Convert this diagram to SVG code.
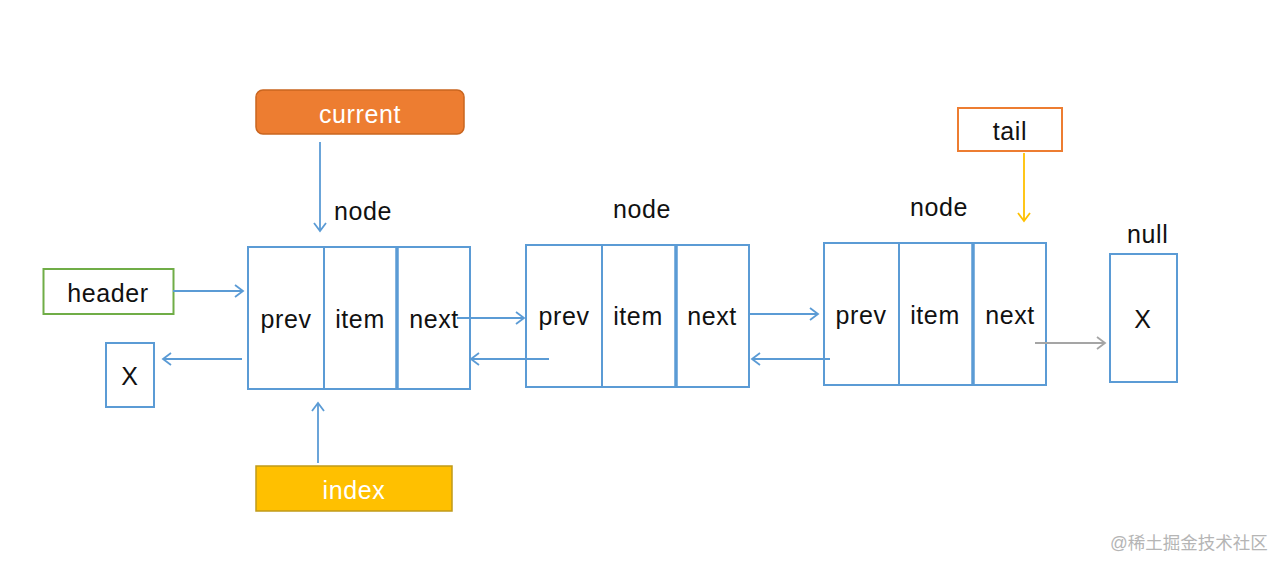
<svg xmlns="http://www.w3.org/2000/svg" width="1288" height="570" viewBox="0 0 1288 570">
<style>
  text { font-family: "Liberation Sans", Arial, sans-serif; font-size: 25px; letter-spacing: 0.6px; fill: #111; }
  .mid { text-anchor: middle; }
  .box { fill: #fff; stroke: #5B9BD5; stroke-width: 2; }
  .div { stroke: #5B9BD5; stroke-width: 2; }
  .thick { stroke: #5B9BD5; stroke-width: 3.5; }
  .conn { fill: none; stroke: #5B9BD5; stroke-width: 1.8; marker-end: url(#ah); }
  .wm { font-family: "Liberation Sans", "Noto Sans CJK SC", sans-serif; font-size: 17.5px; letter-spacing: 0; fill: #b5b5b5; }
</style>
<defs>
  <marker id="ah" markerUnits="userSpaceOnUse" markerWidth="14" markerHeight="16" refX="10" refY="8" orient="auto">
    <path d="M2,2 L10,8 L2,14" fill="none" stroke="#5B9BD5" stroke-width="1.8"/>
  </marker>
  <marker id="ahy" markerUnits="userSpaceOnUse" markerWidth="14" markerHeight="16" refX="10" refY="8" orient="auto">
    <path d="M2,2 L10,8 L2,14" fill="none" stroke="#FFC000" stroke-width="1.8"/>
  </marker>
  <marker id="ahg" markerUnits="userSpaceOnUse" markerWidth="14" markerHeight="16" refX="10" refY="8" orient="auto">
    <path d="M2,2 L10,8 L2,14" fill="none" stroke="#A5A5A5" stroke-width="1.8"/>
  </marker>
</defs>
<rect width="1288" height="570" fill="#fff"/>

<g id="current">
  <rect x="256" y="90" width="208" height="44" rx="7" fill="#ED7D31" stroke="#C9651F" stroke-width="1.5"/>
  <text x="360" y="123" class="mid" style="fill:#fff">current</text>
</g>

<g id="index">
  <rect x="256" y="466" width="196" height="45" fill="#FFC000" stroke="#C09A1A" stroke-width="1.5"/>
  <text x="354" y="499" class="mid" style="fill:#fff">index</text>
</g>

<g id="header">
  <rect x="43.5" y="269" width="130" height="45" fill="#fff" stroke="#70AD47" stroke-width="2"/>
  <text x="108" y="302" class="mid">header</text>
</g>

<g id="xleft">
  <rect x="106" y="343" width="48" height="64" class="box"/>
  <text x="130" y="385" class="mid">X</text>
</g>

<g id="tail">
  <rect x="958" y="108" width="104" height="43" fill="#fff" stroke="#ED7D31" stroke-width="2"/>
  <text x="1010" y="140" class="mid">tail</text>
</g>

<g id="node1">
  <text x="334" y="220">node</text>
  <rect x="248" y="247" width="222" height="142" class="box"/>
  <line x1="324" y1="247" x2="324" y2="389" class="div"/>
  <line x1="397" y1="247" x2="397" y2="389" class="thick"/>
  <text x="286" y="328" class="mid">prev</text>
  <text x="360" y="328" class="mid">item</text>
  <text x="434" y="328" class="mid">next</text>
</g>

<g id="node2">
  <text x="613" y="218">node</text>
  <rect x="526" y="245" width="223" height="142" class="box"/>
  <line x1="602" y1="245" x2="602" y2="387" class="div"/>
  <line x1="676" y1="245" x2="676" y2="387" class="thick"/>
  <text x="564" y="325" class="mid">prev</text>
  <text x="638" y="325" class="mid">item</text>
  <text x="712" y="325" class="mid">next</text>
</g>

<g id="node3">
  <text x="910" y="216">node</text>
  <rect x="824" y="243" width="222" height="142" class="box"/>
  <line x1="899" y1="243" x2="899" y2="385" class="div"/>
  <line x1="973" y1="243" x2="973" y2="385" class="thick"/>
  <text x="861" y="324" class="mid">prev</text>
  <text x="935" y="324" class="mid">item</text>
  <text x="1010" y="324" class="mid">next</text>
</g>

<g id="null">
  <text x="1127" y="243">null</text>
  <rect x="1110" y="254" width="67" height="128" class="box"/>
  <text x="1143" y="328" class="mid">X</text>
</g>

<g id="connectors">
  <path d="M320,142 V231" class="conn"/>
  <path d="M318,463 V403" class="conn"/>
  <path d="M173,291 H243" class="conn"/>
  <path d="M242,359 H163" class="conn"/>
  <path d="M457,318 H524" class="conn"/>
  <path d="M549,359 H471" class="conn"/>
  <path d="M750,314 H818" class="conn"/>
  <path d="M830,359 H752" class="conn"/>
  <path d="M1024,153 V221" fill="none" stroke="#FFC000" stroke-width="1.8" marker-end="url(#ahy)"/>
  <path d="M1035,343 H1105" fill="none" stroke="#A5A5A5" stroke-width="1.8" marker-end="url(#ahg)"/>
</g>

<text x="1110" y="549" class="wm">@稀土掘金技术社区</text>
</svg>
